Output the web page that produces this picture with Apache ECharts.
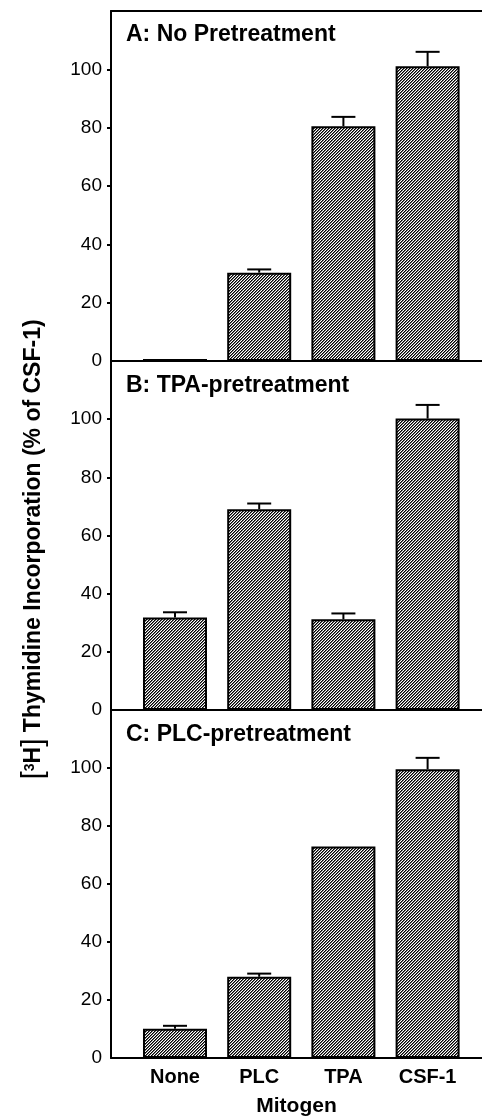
<!DOCTYPE html>
<html>
<head>
<meta charset="utf-8">
<script src="https://cdn.jsdelivr.net/npm/echarts@6/dist/echarts.min.js"></script>
<style>
  html, body { margin: 0; padding: 0; background: #fff; }
  #chart { width: 482px; height: 1120px; }
</style>
</head>
<body>
<div id="chart"></div>
<script>
// Mitogen categories (x axis) and panel headings
const mitogens = ['None', 'PLC', 'TPA', 'CSF-1'];
const panelTitles = ['A: No Pretreatment', 'B: TPA-pretreatment', 'C: PLC-pretreatment'];

// [3H]thymidine incorporation, % of CSF-1 response, with upper error (SEM)
const noPretreatment    = [0.7, 30.3, 80.5, 101.1];
const noPretreatmentErr = [0, 1.1, 3.2, 4.9];
const tpaPretreatment    = [31.8, 69.0, 31.2, 100.2];
const tpaPretreatmentErr = [1.8, 2.0, 2.0, 4.7];
const plcPretreatment    = [10.1, 28.0, 72.9, 99.6];
const plcPretreatmentErr = [1.0, 1.1, 0, 3.9];

// y axis tick labels and tick marks
const yLabelValues = [0, 20, 40, 60, 80, 100];
const yTickValues = [20, 40, 60, 80, 100];

const panels = [
  { values: noPretreatment, errors: noPretreatmentErr },
  { values: tpaPretreatment, errors: tpaPretreatmentErr },
  { values: plcPretreatment, errors: plcPretreatmentErr }
];

const FONT = "'Liberation Sans', Arial, Helvetica, sans-serif";
const X_MIN = 0.24, X_MAX = 4.646;

// Diagonal "/" hatching used to fill the bars
function makeHatch() {
  const c = document.createElement('canvas');
  c.width = 3; c.height = 3;
  const ctx = c.getContext('2d');
  const img = ctx.createImageData(3, 3);
  for (let y = 0; y < 3; y++) {
    for (let x = 0; x < 3; x++) {
      const d = (x + y) % 3;
      const v = d === 0 ? 0 : (d === 1 ? 110 : 255);
      const k = (y * 3 + x) * 4;
      img.data[k] = v; img.data[k + 1] = v; img.data[k + 2] = v; img.data[k + 3] = 255;
    }
  }
  ctx.putImageData(img, 0, 0);
  return c;
}
const hatch = makeHatch();

const grids = [
  { left: 111, right: 0, top: 11, height: 350 },
  { left: 111, right: 0, top: 361, height: 349 },
  { left: 111, right: 0, top: 710, height: 348 }
];

const xAxes = [];
const yAxes = [];
const series = [];
const titles = [];
const titleTops = [23, 374, 723];

panels.forEach((p, i) => {
  xAxes.push({
    gridIndex: i, type: 'value', min: X_MIN, max: X_MAX,
    axisLine: { show: true, onZero: false, lineStyle: { color: '#000', width: 2 } },
    axisTick: { show: false },
    splitLine: { show: false },
    axisLabel: {
      show: i === 2,
      customValues: [1, 2, 3, 4],
      formatter: v => mitogens[Math.round(v) - 1] || '',
      margin: 9,
      color: '#000', fontFamily: FONT, fontSize: 20, fontWeight: 'bold'
    },
    name: i === 2 ? 'Mitogen' : '',
    nameLocation: 'middle',
    nameGap: 38,
    nameTextStyle: { color: '#000', fontFamily: FONT, fontSize: 21, fontWeight: 'bold' }
  });
  yAxes.push({
    gridIndex: i, type: 'value', min: 0, max: 120, interval: 20,
    axisLine: { show: true, lineStyle: { color: '#000', width: 2 } },
    axisTick: { show: true, inside: false, length: 4, customValues: yTickValues,
                lineStyle: { color: '#000', width: 2 } },
    axisLabel: { customValues: yLabelValues, margin: 9, color: '#000',
                 fontFamily: FONT, fontSize: 19 },
    splitLine: { show: false },
    name: i === 1 ? '{br|[}{sup|3}{hh|H}{br|]} Thymidine Incorporation (% of CSF-1)' : '',
    nameLocation: 'middle',
    nameRotate: 90,
    nameGap: 62,
    nameTextStyle: {
      color: '#000', fontFamily: FONT, fontSize: 23, fontWeight: 'bold',
      padding: [0, 28, 0, 0],
      rich: {
        br: { fontFamily: FONT, fontSize: 30, fontWeight: 'normal', color: '#000' },
        sup: { fontFamily: FONT, fontSize: 14, fontWeight: 'bold', color: '#000', verticalAlign: 'top', padding: [4, 0, 0, 0] },
        hh: { fontFamily: FONT, fontSize: 23, fontWeight: 'bold', color: '#000' }
      }
    }
  });
  series.push({
    type: 'bar', xAxisIndex: i, yAxisIndex: i,
    barWidth: 64,
    data: p.values.map((v, j) => [j + 1, v]),
    itemStyle: { color: { image: hatch, repeat: 'repeat' }, borderColor: '#000', borderWidth: 2 },
    silent: true, animation: false, z: 2
  });
  series.push({
    type: 'custom', xAxisIndex: i, yAxisIndex: i,
    data: p.values.map((v, j) => [j + 1, v, p.errors[j]]),
    renderItem: (params, api) => {
      const x = api.value(0), y = api.value(1), e = api.value(2);
      if (!e) return null;
      const p0 = api.coord([x, y]);
      const p1 = api.coord([x, y + e]);
      return {
        type: 'group',
        children: [
          { type: 'line', shape: { x1: p0[0], y1: p0[1], x2: p1[0], y2: p1[1] },
            style: { stroke: '#000', lineWidth: 2 } },
          { type: 'line', shape: { x1: p1[0] - 12, y1: p1[1], x2: p1[0] + 12, y2: p1[1] },
            style: { stroke: '#000', lineWidth: 2 } }
        ]
      };
    },
    silent: true, animation: false, z: 3
  });
  titles.push({
    text: panelTitles[i], left: 126, top: titleTops[i], padding: 0,
    textStyle: { color: '#000', fontFamily: FONT, fontSize: 23, fontWeight: 'bold' }
  });
});

// frame line along the top of panel A
xAxes.push({
  gridIndex: 0, type: 'value', min: X_MIN, max: X_MAX, position: 'top',
  axisLine: { show: true, onZero: false, lineStyle: { color: '#000', width: 2 } },
  axisTick: { show: false }, axisLabel: { show: false }, splitLine: { show: false }
});

const chart = echarts.init(document.getElementById('chart'), null, { renderer: 'canvas' });
chart.setOption({
  animation: false,
  backgroundColor: '#fff',
  title: titles,
  grid: grids.map(g => Object.assign({ outerBoundsMode: 'none' }, g)),
  xAxis: xAxes,
  yAxis: yAxes,
  series: series
});
</script>
</body>
</html>
